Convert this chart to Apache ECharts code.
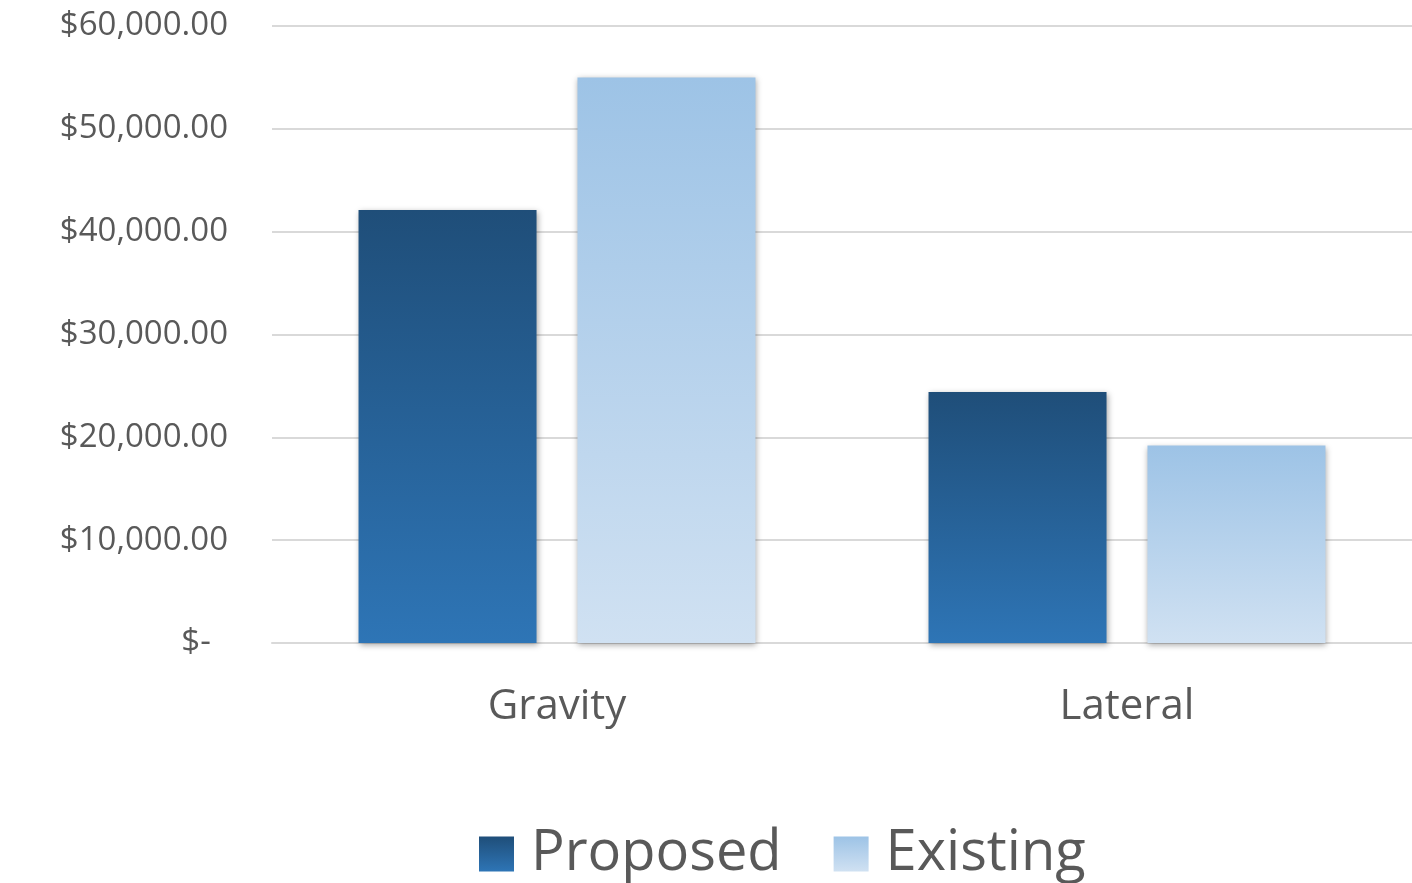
<!DOCTYPE html>
<html>
<head>
<meta charset="utf-8">
<script src="https://cdn.jsdelivr.net/npm/echarts@6/dist/echarts.min.js"></script>
<style>
    html, body { margin: 0; padding: 0; background: #fff; }
    #chart { width: 1412px; height: 883px; }
</style>
</head>
<body>
<div id="chart"></div>
<script>
// chart data
const categories = ['Gravity', 'Lateral']
const proposed = [42100, 24400]
const existing = [55000, 19200]
const yTicks = [0, 10000, 20000, 30000, 40000, 50000, 60000]

const fontFamily = '"Open Sans", "Noto Sans", sans-serif'
const textColor = '#595959'

function money (v) {
    if (v === 0) return '$-  '
    return '$' + v.toLocaleString('en-US', { minimumFractionDigits: 2, maximumFractionDigits: 2 })
}

function grad (top, bottom) {
    return new echarts.graphic.LinearGradient(0, 0, 0, 1, [
        { offset: 0, color: top },
        { offset: 1, color: bottom }
    ])
}

const barShadow = {
    shadowBlur: 6,
    shadowColor: 'rgba(0,0,0,0.35)',
    shadowOffsetX: 1,
    shadowOffsetY: 2
}

const chart = echarts.init(document.getElementById('chart'))
chart.setOption({
    animation: false,
    textStyle: { fontFamily: fontFamily },
    grid: {
        left: 272,
        right: -4,
        top: 26,
        bottom: 240
    },
    legend: {
        bottom: -4,
        left: 474,
        itemWidth: 35,
        itemHeight: 35,
        itemGap: 52,
        icon: 'rect',
        textStyle: {
            fontSize: 56,
            color: textColor,
            fontFamily: fontFamily,
            padding: [0, 0, 0, 12]
        },
        itemStyle: { shadowBlur: 0, shadowOffsetX: 0, shadowOffsetY: 0 }
    },
    xAxis: {
        type: 'category',
        data: categories,
        axisTick: { show: false },
        axisLine: { lineStyle: { color: '#d9d9d9', width: 2 } },
        axisLabel: {
            fontSize: 42,
            color: textColor,
            margin: 43
        }
    },
    yAxis: {
        type: 'value',
        min: yTicks[0],
        max: yTicks[yTicks.length - 1],
        interval: 10000,
        axisLine: { show: false },
        axisTick: { show: false },
        splitLine: { lineStyle: { color: '#d9d9d9', width: 2 } },
        axisLabel: {
            fontSize: 33,
            color: textColor,
            margin: 44,
            padding: [6, 0, 0, 0],
            formatter: money
        }
    },
    series: [
        {
            name: 'Proposed',
            type: 'bar',
            data: proposed,
            barWidth: 178,
            barGap: '23%',
            itemStyle: Object.assign({ color: grad('#1f4e79', '#2e75b6') }, barShadow)
        },
        {
            name: 'Existing',
            type: 'bar',
            data: existing,
            barWidth: 178,
            itemStyle: Object.assign({ color: grad('#9dc3e6', '#d0e1f2') }, barShadow)
        }
    ]
})
</script>
</body>
</html>
